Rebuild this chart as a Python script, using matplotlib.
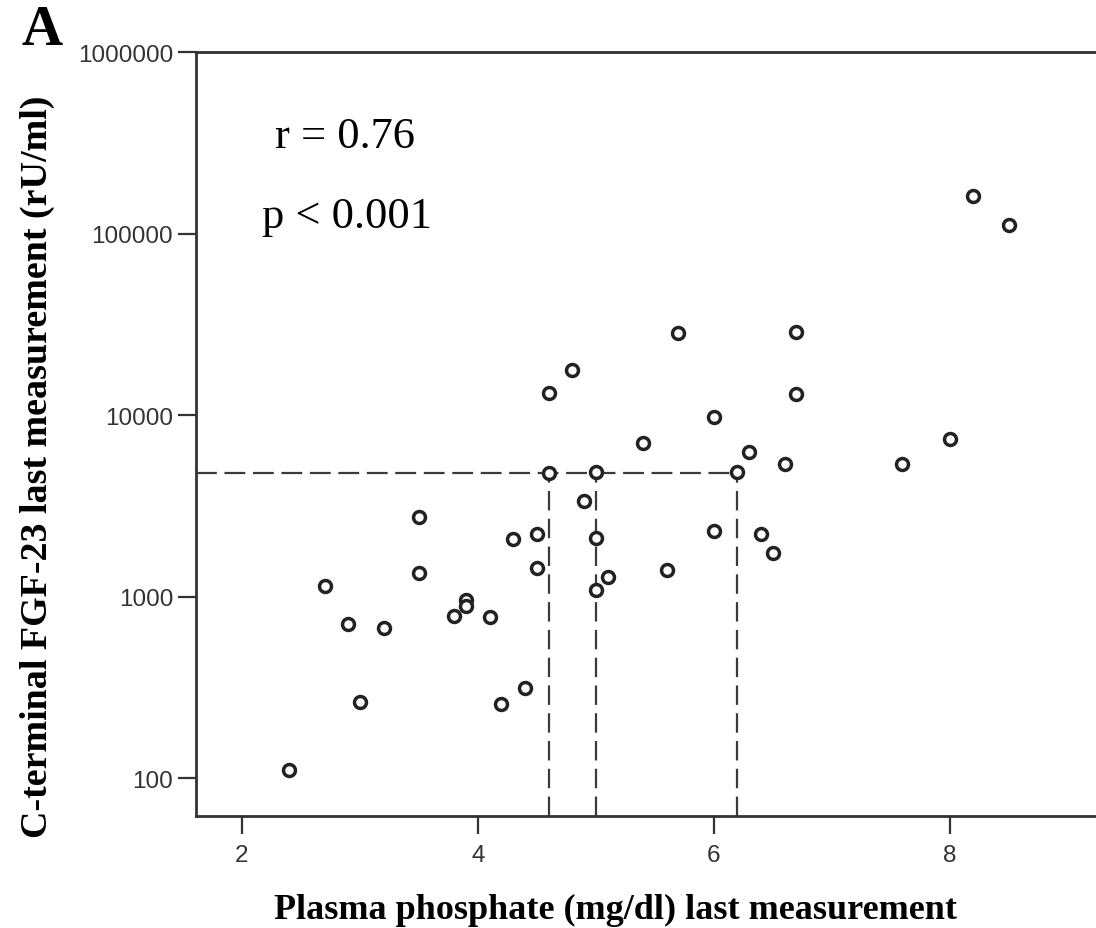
import matplotlib
matplotlib.use("Agg")
import matplotlib.pyplot as plt
from matplotlib.ticker import FixedLocator, FixedFormatter, NullLocator

# ---- data ----
phosphate = [2.4, 2.7, 2.9, 3.0, 3.2, 3.5, 3.5, 3.8, 3.9, 3.9, 4.1, 4.2, 4.4, 4.3,
             4.5, 4.5, 4.6, 4.6, 4.8, 4.9, 5.0, 5.0, 5.0, 5.1, 5.4, 5.6, 5.7, 6.0,
             6.0, 6.2, 6.3, 6.4, 6.5, 6.6, 6.7, 6.7, 7.6, 8.0, 8.2, 8.5]
fgf23 = [111, 1143, 705, 261, 670, 1349, 2742, 778, 957, 887, 767, 256, 312, 2073,
         2210, 1430, 13160, 4775, 17780, 3373, 4830, 2093, 1091, 1280, 7037, 1405, 28300, 9790,
         2296, 4830, 6280, 2202, 1730, 5370, 28650, 13050, 5370, 7380, 160300, 111000]
phosphate_cuts = [4.6, 5.0, 6.2]
fgf_cut = 4800
x_ticks = [2, 4, 6, 8]
x_ticklabels = ["2", "4", "6", "8"]
y_ticks = [100, 1000, 10000, 100000, 1000000]
y_ticklabels = ["100", "1000", "10000", "100000", "1000000"]
r_text = "r = 0.76"
p_text = "p < 0.001"
xlabel = "Plasma phosphate (mg/dl) last measurement"
ylabel = "C-terminal FGF-23 last measurement (rU/ml)"
panel = "A"

W, H = 1096, 929
fig = plt.figure(figsize=(W / 100, H / 100), dpi=100)
plt.rcParams['lines.scale_dashes'] = False

def fx(px):
    return px / W

def fy(py):
    return 1 - py / H

ax_left, ax_right = 196, 1103
ax_top, ax_bottom = 53, 817
ax = fig.add_axes([fx(ax_left), fy(ax_bottom), (ax_right - ax_left) / W, (ax_bottom - ax_top) / H])

xmin, xmax = 1.61, 9.3
ymin, ymax = 61.8, 1e6
ax.set_xlim(xmin, xmax)
ax.set_yscale('log')
ax.set_ylim(ymin, ymax)

line_col = '#3a3a3a'
# cut-off reference lines
ax.plot([xmin, max(phosphate_cuts)], [fgf_cut, fgf_cut], color=line_col, lw=1.6,
        dashes=(15, 5.5), zorder=2)
for c in phosphate_cuts:
    ax.plot([c, c], [ymin, fgf_cut], color=line_col, lw=1.6, dashes=(14, 6), zorder=2)

ax.plot(phosphate, fgf23, linestyle='none', marker='o', markersize=8.6,
        markerfacecolor='white', markeredgecolor='#222222', markeredgewidth=2.5, zorder=3)

for side in ['left', 'bottom', 'top', 'right']:
    ax.spines[side].set_linewidth(2.0)
    ax.spines[side].set_color('#333333')
ax.spines['right'].set_visible(False)

ax.xaxis.set_major_locator(FixedLocator(x_ticks))
ax.xaxis.set_major_formatter(FixedFormatter(x_ticklabels))
ax.yaxis.set_major_locator(FixedLocator(y_ticks))
ax.yaxis.set_major_formatter(FixedFormatter(y_ticklabels))
ax.yaxis.set_minor_locator(NullLocator())
ax.xaxis.set_minor_locator(NullLocator())
ax.tick_params(axis='both', which='major', direction='out', length=13, width=1.6,
               color='#333333', labelcolor='#333333')
ax.tick_params(axis='x', pad=7)
ax.tick_params(axis='y', pad=3.5)
for lab in ax.get_xticklabels() + ax.get_yticklabels():
    lab.set_fontfamily('Liberation Sans')
    lab.set_fontsize(17.5)

serif = ['Liberation Serif', 'DejaVu Serif']
fig.text(fx(275), fy(148), r_text, fontsize=32, family=serif, ha='left', va='baseline')
fig.text(fx(262), fy(228), p_text, fontsize=32, family=serif, ha='left', va='baseline')

fig.text(fx(615), fy(919), xlabel, fontsize=26, family=serif, fontweight='bold',
         ha='center', va='baseline')
fig.text(fx(37), fy(467), ylabel, fontsize=27.4, family=serif, fontweight='bold',
         ha='center', va='center', rotation=90)
fig.text(fx(22), fy(45), panel, fontsize=41, family=serif, fontweight='bold',
         ha='left', va='baseline')

fig.savefig('out.png', dpi=100, facecolor='white')
